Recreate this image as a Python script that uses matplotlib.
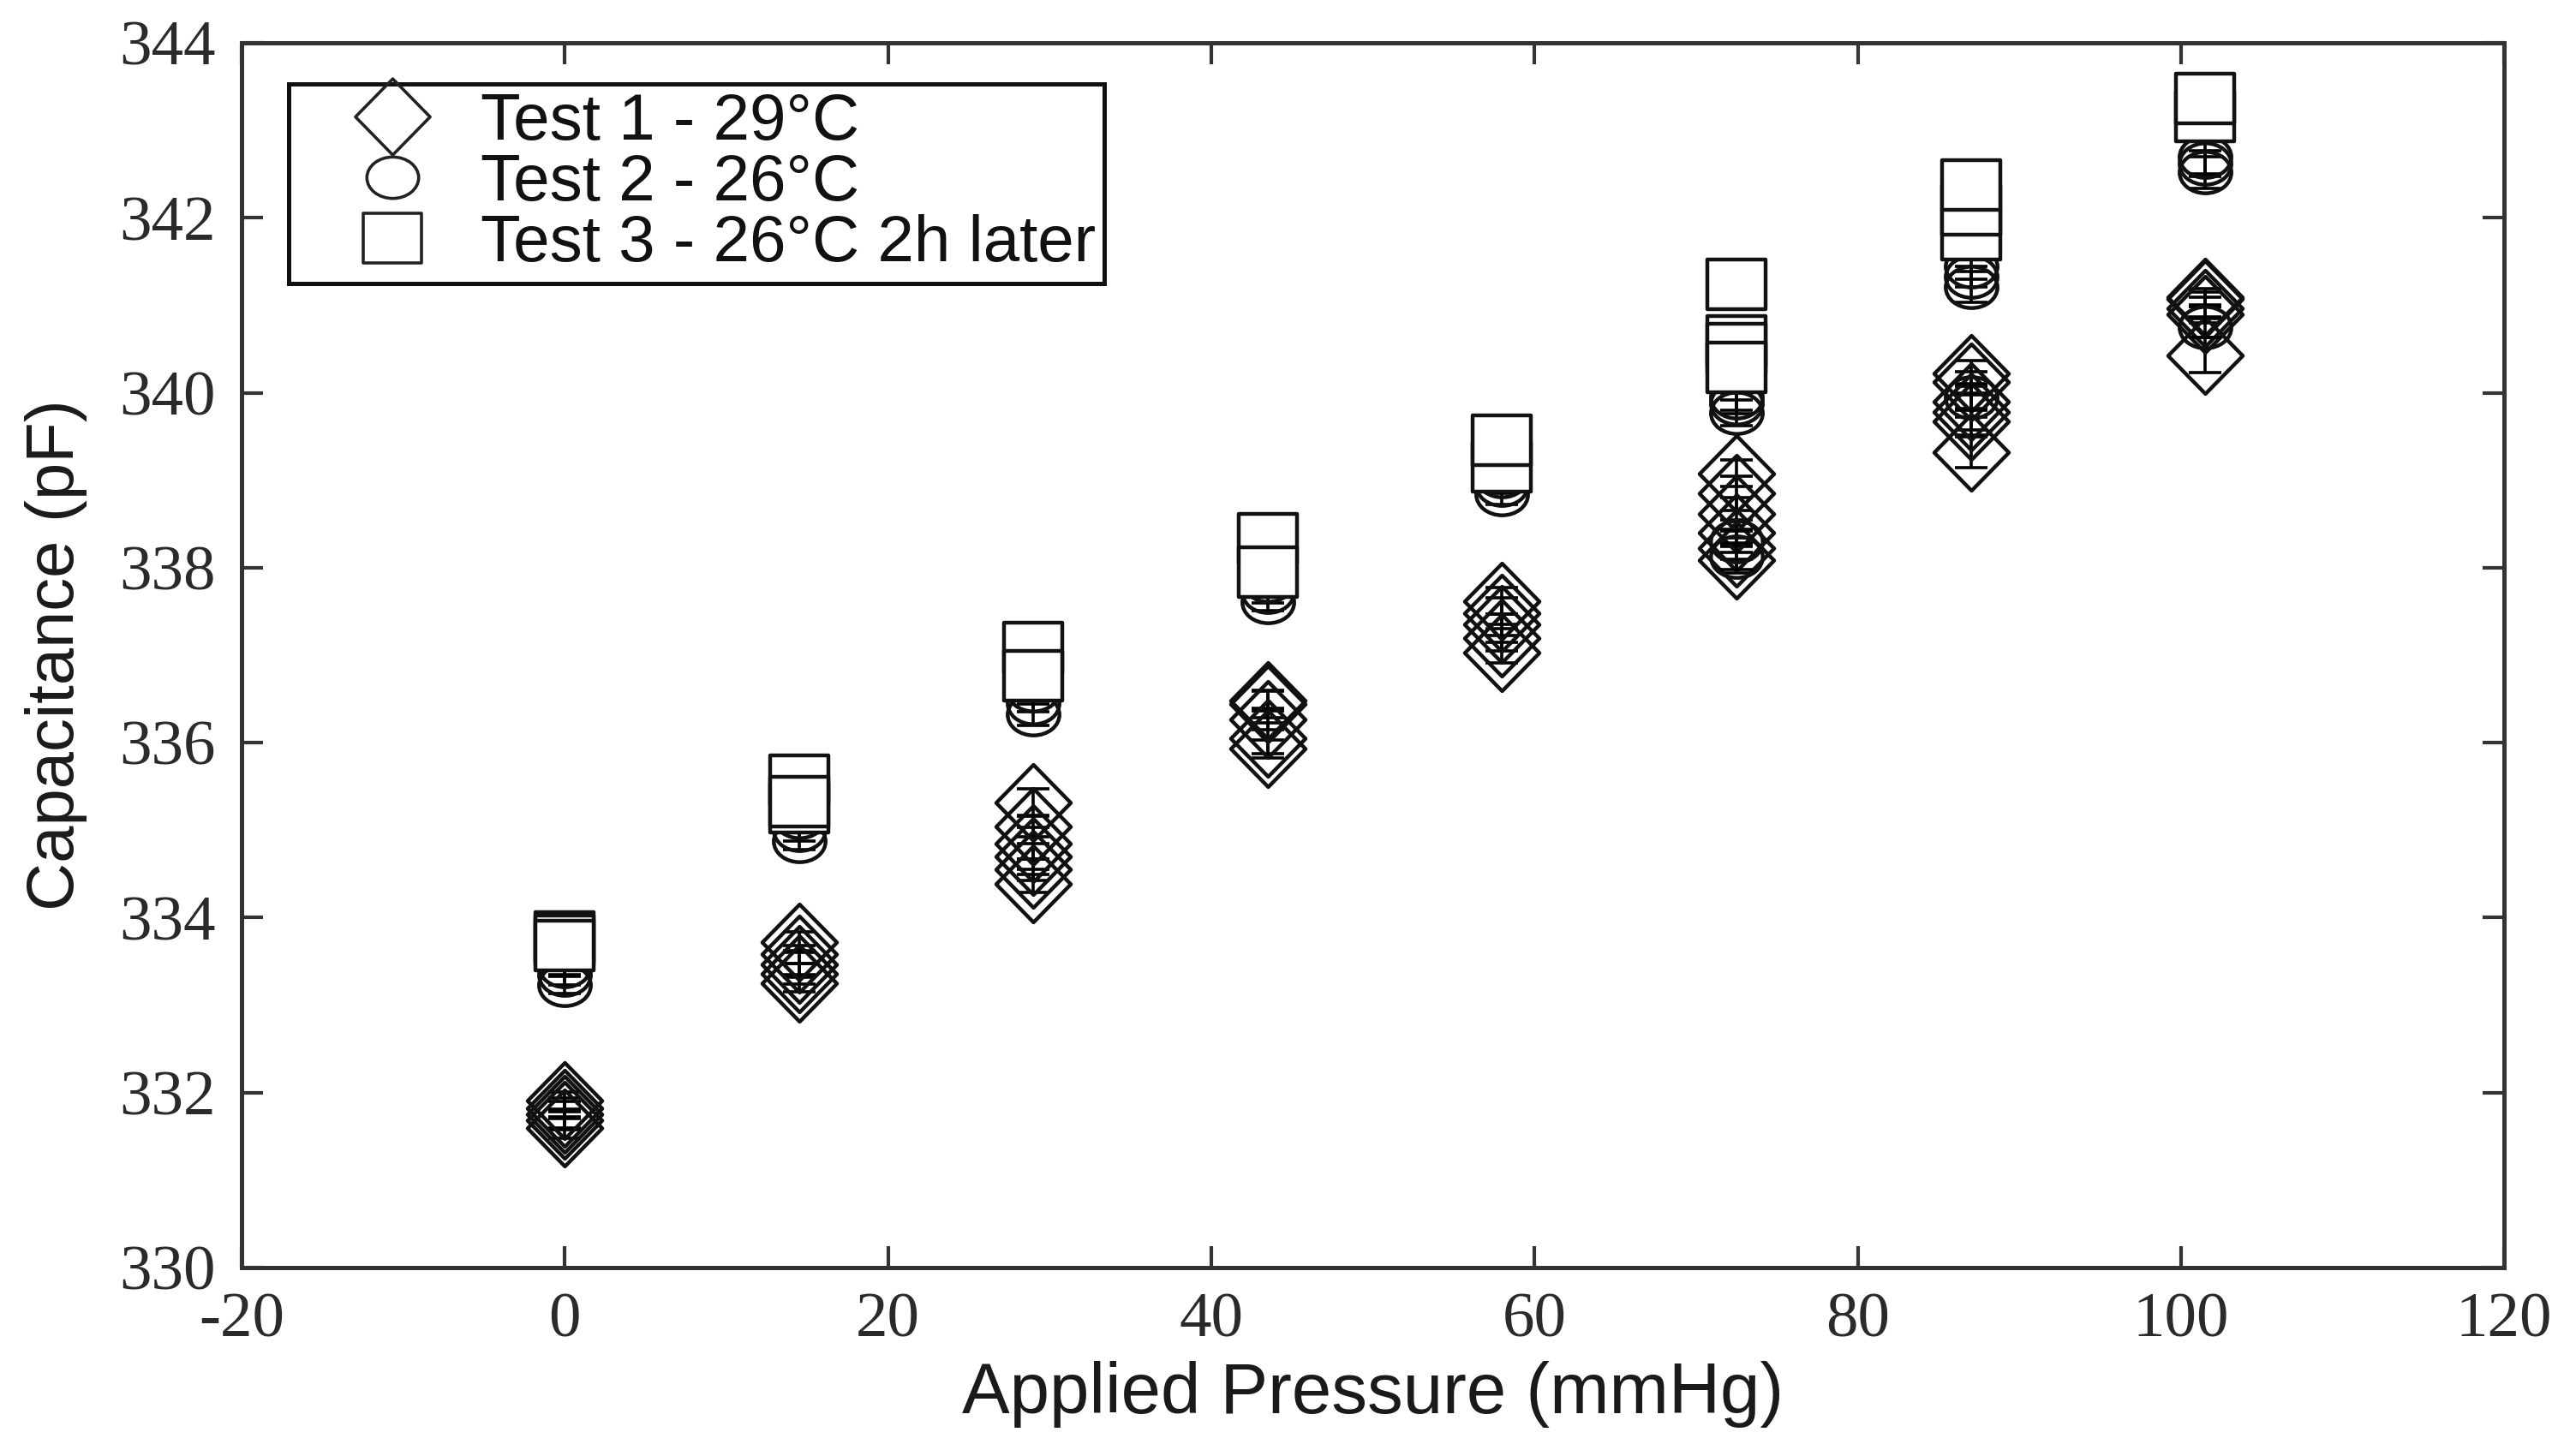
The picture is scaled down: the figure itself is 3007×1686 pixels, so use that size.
import matplotlib
matplotlib.use('Agg')
import matplotlib.pyplot as plt
from matplotlib.path import Path
from matplotlib.lines import Line2D
import numpy as np

# ---------------- data ----------------
pressure = [0, 14.5, 29, 43.5, 58, 72.5, 87, 101.5]

test1_values = [
    [331.91, 331.82, 331.75, 331.68, 331.60],
    [333.72, 333.58, 333.47, 333.36, 333.25],
    [335.32, 335.04, 334.85, 334.70, 334.55, 334.39],
    [336.48, 336.44, 336.27, 336.05, 335.93],
    [337.62, 337.48, 337.35, 337.20, 337.03],
    [339.08, 338.85, 338.62, 338.40, 338.22, 338.09],
    [340.22, 340.12, 339.90, 339.78, 339.67, 339.32],
    [341.09, 341.07, 340.97, 340.90, 340.43],
]
test1_errors = [
    [0.10, 0.12, 0.15, 0.10, 0.12],
    [0.12, 0.10, 0.15, 0.12, 0.10],
    [0.15, 0.12, 0.18, 0.15, 0.12, 0.10],
    [0.12, 0.15, 0.12, 0.18, 0.10],
    [0.15, 0.18, 0.12, 0.15, 0.12],
    [0.15, 0.20, 0.18, 0.15, 0.12, 0.15],
    [0.15, 0.12, 0.18, 0.20, 0.15, 0.18],
    [0.10, 0.08, 0.12, 0.10, 0.20],
]

test2_values = [
    [333.45, 333.35, 333.23],
    [335.15, 335.00, 334.88],
    [336.60, 336.45, 336.32],
    [337.85, 337.72, 337.61],
    [339.05, 338.95, 338.84],
    [339.95, 339.88, 339.77, 338.30, 338.13],
    [341.45, 341.33, 341.21, 339.95],
    [342.70, 342.62, 342.52, 340.75],
]
test2_errors = [
    [0.10, 0.12, 0.10],
    [0.10, 0.12, 0.10],
    [0.12, 0.10, 0.12],
    [0.10, 0.12, 0.10],
    [0.12, 0.10, 0.12],
    [0.15, 0.12, 0.15, 0.12, 0.15],
    [0.15, 0.12, 0.18, 0.15],
    [0.20, 0.15, 0.18, 0.12],
]

test3_values = [
    [333.78, 333.74, 333.68],
    [335.57, 335.26, 335.33],
    [337.09, 336.77],
    [338.33, 337.95],
    [339.15, 339.46],
    [340.59, 340.51, 340.29, 341.24],
    [341.81, 342.09, 342.38],
    [343.16, 343.36],
]
test3_errors = [
    [0.05, 0.05, 0.05],
    [0.06, 0.05, 0.06],
    [0.06, 0.05],
    [0.06, 0.05],
    [0.05, 0.06],
    [0.06, 0.05, 0.06, 0.05],
    [0.05, 0.06, 0.05],
    [0.05, 0.06],
]

series_labels = ['Test 1 - 29\u00b0C', 'Test 2 - 26\u00b0C', 'Test 3 - 26\u00b0C 2h later']
x_ticks = [-20, 0, 20, 40, 60, 80, 100, 120]
y_ticks = [330, 332, 334, 336, 338, 340, 342, 344]
x_label = 'Applied Pressure (mmHg)'
y_label = 'Capacitance (pF)'

# ---------------- marker shapes ----------------
diamond = Path([(0, 1), (0.98, 0), (0, -1), (-0.98, 0), (0, 1)],
               [Path.MOVETO, Path.LINETO, Path.LINETO, Path.LINETO, Path.CLOSEPOLY])
uc = Path.unit_circle()
ellipse = Path(uc.vertices * np.array([1.0, 0.8]), uc.codes)
rect = Path([(-1, -0.83), (1, -0.83), (1, 0.83), (-1, 0.83), (-1, -0.83)],
            [Path.MOVETO, Path.LINETO, Path.LINETO, Path.LINETO, Path.CLOSEPOLY])

EDGE = '#111111'
MEW = 3.2
styles = [
    dict(marker=diamond, ms=64.0, mfc='none'),
    dict(marker=ellipse, ms=43.5, mfc='none'),
    dict(marker=rect, ms=49.5, mfc='white'),
]

fig = plt.figure(figsize=(30.07, 16.86), dpi=100)
fig.patch.set_facecolor('white')
ax = fig.add_axes([0.0938, 0.1222, 0.8783, 0.8481])

all_vals = [test1_values, test2_values, test3_values]
all_errs = [test1_errors, test2_errors, test3_errors]

for k, (vals, errs, st) in enumerate(zip(all_vals, all_errs, styles)):
    z = 2 + k
    for x, vs, es in zip(pressure, vals, errs):
        xs = [x] * len(vs)
        ax.errorbar(xs, vs, yerr=es, fmt='none', ecolor='black',
                    elinewidth=2.6, capsize=13.7, capthick=2.6, zorder=z)
        ax.plot(xs, vs, linestyle='none', marker=st['marker'], ms=st['ms'],
                mfc=st['mfc'], mec=EDGE, mew=MEW, zorder=z + 0.5)

ax.set_xlim(-20, 120)
ax.set_ylim(330, 344)
ax.set_xticks(x_ticks)
ax.set_yticks(y_ticks)
ax.set_xticklabels([str(t) for t in x_ticks])
ax.set_yticklabels([str(t) for t in y_ticks])

for sp in ax.spines.values():
    sp.set_linewidth(3.6)
    sp.set_color('#333333')

ax.tick_params(axis='both', direction='in', length=18, width=3.0, color='#333333',
               top=True, right=True, labelsize=54, labelcolor='#2a2a2a',
               labelfontfamily='Liberation Serif')
ax.tick_params(axis='x', pad=21)
ax.tick_params(axis='y', pad=22)

ax.set_xlabel(x_label, fontsize=60, family='Liberation Sans', color='#1a1a1a')
ax.xaxis.label.set_va('baseline')
ax.xaxis.set_label_coords(0.5, -0.1189)
ax.set_ylabel(y_label, fontsize=56, family='Liberation Sans', color='#1a1a1a')
ax.yaxis.label.set_va('center')
ax.yaxis.set_label_coords(-0.082, 0.5)

handles = [Line2D([], [], linestyle='none', marker=st['marker'], ms=st['ms'],
                  mfc=st['mfc'], mec='#222222', mew=2.6) for st in styles]
leg = ax.legend(handles, series_labels, loc='upper left',
                bbox_to_anchor=(0.0208, 0.9664), borderaxespad=0,
                prop={'family': 'Liberation Sans', 'size': 55},
                frameon=True, fancybox=False, framealpha=1,
                edgecolor='#111111', borderpad=0.13, labelspacing=0.0,
                handlelength=2.9, handletextpad=-0.1, handleheight=0.7)
leg.get_frame().set_linewidth(3.6)
for t in leg.get_texts():
    t.set_color('#111111')

fig.savefig('out.png', dpi=100, facecolor='white')
